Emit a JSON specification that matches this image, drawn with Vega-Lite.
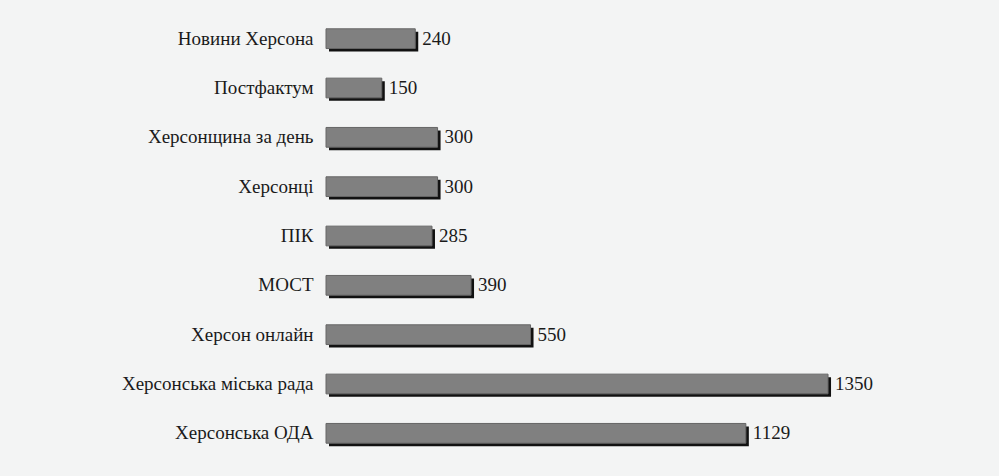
{
  "$schema": "https://vega.github.io/schema/vega-lite/v6.json",
  "autosize": {"type": "none"},
  "width": 595,
  "height": 444,
  "padding": {"left": 326, "top": 14, "right": 78, "bottom": 18},
  "background": "#f3f4f4",
  "config": {"view": {"stroke": null}},
  "data": {"values": [
    {"name": "Новини Херсона", "value": 240},
    {"name": "Постфактум", "value": 150},
    {"name": "Херсонщина за день", "value": 300},
    {"name": "Херсонці", "value": 300},
    {"name": "ПІК", "value": 285},
    {"name": "МОСТ", "value": 390},
    {"name": "Херсон онлайн", "value": 550},
    {"name": "Херсонська міська рада", "value": 1350},
    {"name": "Херсонська ОДА", "value": 1129}
  ]},
  "encoding": {
    "y": {"field": "name", "type": "nominal", "sort": null,
      "scale": {"paddingInner": 0.6, "paddingOuter": 0.3},
      "axis": {"title": null, "domain": false, "ticks": false, "labelPadding": 13, "labelFontSize": 19, "labelLimit": 400, "labelColor": "#1a1a1a", "labelFont": "Liberation Serif"}},
    "x": {"field": "value", "type": "quantitative", "scale": {"domain": [0, 1600]}, "axis": null}
  },
  "layer": [
    {"mark": {"type": "bar", "color": "#111", "xOffset": 3, "yOffset": 3}},
    {"mark": {"type": "bar", "color": "#808080", "stroke": "#666", "strokeWidth": 1}},
    {"mark": {"type": "text", "align": "left", "dx": 7, "fontSize": 19, "color": "#1a1a1a", "font": "Liberation Serif"},
      "encoding": {"text": {"field": "value", "type": "quantitative"}}}
  ]
}
